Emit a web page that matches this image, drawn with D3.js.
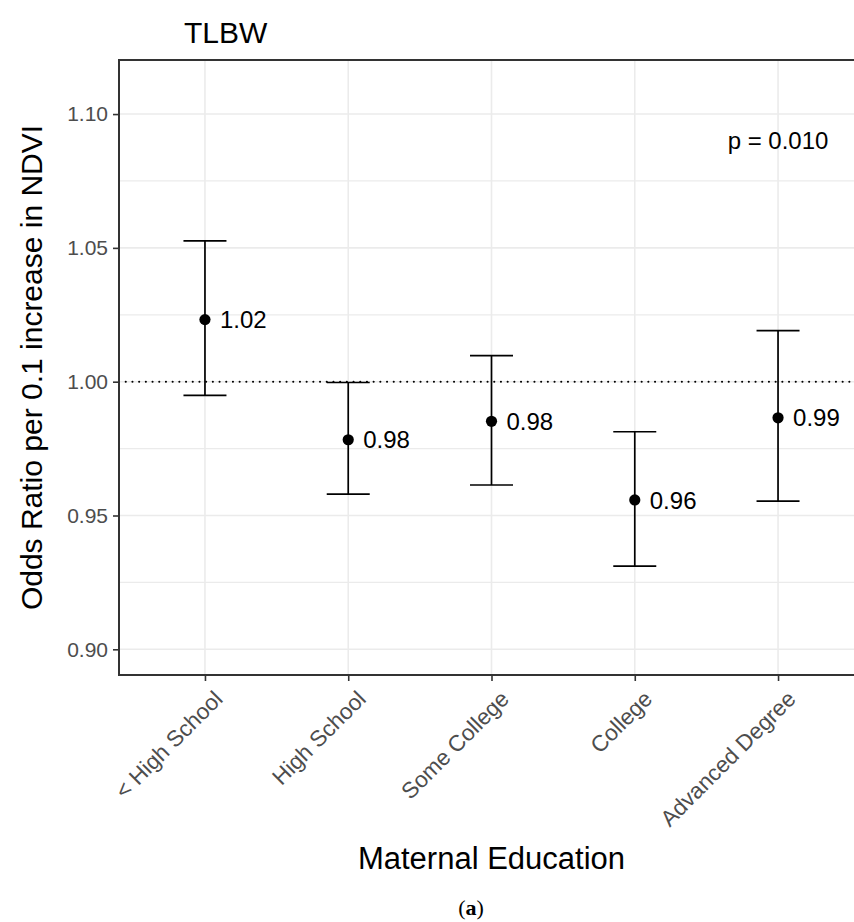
<!DOCTYPE html>
<html><head><meta charset="utf-8">
<script src="https://cdn.jsdelivr.net/npm/d3@7"></script>
<style>
html,body{margin:0;padding:0;background:#fff;}
svg{display:block;font-family:"Liberation Sans",Arial,Helvetica,sans-serif;}
</style></head>
<body>
<svg id="chart" width="854" height="922"></svg>
<script>
const categories = ["< High School","High School","Some College","College","Advanced Degree"];
const oddsRatio = [1.0232, 0.9783, 0.9852, 0.9558, 0.9865];
const lowerCI   = [0.9949, 0.9580, 0.9614, 0.9311, 0.9554];
const upperCI   = [1.0526, 0.9997, 1.0097, 0.9813, 1.0191];
const pointLabels = ["1.02","0.98","0.98","0.96","0.99"];
const yTicks = [0.90, 0.95, 1.00, 1.05, 1.10];
const yMinorTicks = [0.925, 0.975, 1.025, 1.075];
const yDomain = [0.8904, 1.1202];
const refLine = 1.00;
const pText = "p = 0.010";
const pY = 1.09;

const svg = d3.select("#chart");
const P = {left:119, right:864, top:60, bottom:675};

const x = d3.scalePoint().domain(categories).range([P.left, P.right]).padding(0.6);
const y = d3.scaleLinear().domain(yDomain).range([P.bottom, P.top]);

svg.append("defs").append("clipPath").attr("id","pc")
  .append("rect").attr("x",P.left).attr("y",P.top).attr("width",P.right-P.left).attr("height",P.bottom-P.top);

const panel = svg.append("g").attr("clip-path","url(#pc)");
panel.selectAll(".gmin").data(yMinorTicks).join("line")
  .attr("x1",P.left).attr("x2",P.right).attr("y1",d=>y(d)).attr("y2",d=>y(d))
  .attr("stroke","#ebebeb").attr("stroke-width",1.2);
panel.selectAll(".gmaj").data(yTicks).join("line")
  .attr("x1",P.left).attr("x2",P.right).attr("y1",d=>y(d)).attr("y2",d=>y(d))
  .attr("stroke","#ebebeb").attr("stroke-width",1.6);
panel.selectAll(".gx").data(categories).join("line")
  .attr("x1",d=>x(d)).attr("x2",d=>x(d)).attr("y1",P.top).attr("y2",P.bottom)
  .attr("stroke","#ebebeb").attr("stroke-width",1.6);

panel.append("line").attr("x1",P.left).attr("x2",P.right)
  .attr("y1",y(refLine)).attr("y2",y(refLine))
  .attr("stroke","#000").attr("stroke-width",2).attr("stroke-linecap","round")
  .attr("stroke-dasharray","0.1,6.6");

const rows = categories.map((c,i)=>({c, or:oddsRatio[i], lo:lowerCI[i], hi:upperCI[i], lab:pointLabels[i]}));
const capW = 21.5;
const eb = panel.selectAll(".eb").data(rows).join("g");
eb.append("line").attr("x1",d=>x(d.c)).attr("x2",d=>x(d.c)).attr("y1",d=>y(d.lo)).attr("y2",d=>y(d.hi))
  .attr("stroke","#000").attr("stroke-width",1.7);
eb.append("line").attr("x1",d=>x(d.c)-capW).attr("x2",d=>x(d.c)+capW).attr("y1",d=>y(d.hi)).attr("y2",d=>y(d.hi))
  .attr("stroke","#000").attr("stroke-width",1.7);
eb.append("line").attr("x1",d=>x(d.c)-capW).attr("x2",d=>x(d.c)+capW).attr("y1",d=>y(d.lo)).attr("y2",d=>y(d.lo))
  .attr("stroke","#000").attr("stroke-width",1.7);
eb.append("circle").attr("cx",d=>x(d.c)).attr("cy",d=>y(d.or)).attr("r",5.6).attr("fill","#000");
eb.append("text").attr("x",d=>x(d.c)+15).attr("y",d=>y(d.or)).attr("dy","0.36em")
  .attr("font-size",24).attr("fill","#000").text(d=>d.lab);

panel.append("text").attr("x",x(categories[4])).attr("y",y(pY)).attr("dy","0.36em")
  .attr("text-anchor","middle").attr("font-size",24).attr("fill","#000").text(pText);

svg.append("rect").attr("x",P.left).attr("y",P.top).attr("width",P.right-P.left).attr("height",P.bottom-P.top)
  .attr("fill","none").attr("stroke","#333333").attr("stroke-width",2);

const yAxis = svg.append("g").attr("transform",`translate(${P.left},0)`)
  .call(d3.axisLeft(y).tickValues(yTicks).tickFormat(d3.format(".2f")).tickSizeOuter(0).tickSize(6).tickPadding(5));
yAxis.select(".domain").remove();
yAxis.selectAll(".tick line").attr("stroke","#333333").attr("stroke-width",1.6);
yAxis.selectAll(".tick text").attr("font-size",21).attr("fill","#4d4d4d").attr("font-family","Liberation Sans, Arial, sans-serif");

const xAxis = svg.append("g").attr("transform",`translate(0,${P.bottom})`)
  .call(d3.axisBottom(x).tickSizeOuter(0).tickSize(6));
xAxis.select(".domain").remove();
xAxis.selectAll(".tick line").attr("stroke","#333333").attr("stroke-width",1.6);
xAxis.selectAll(".tick text")
  .attr("font-size",22.5).attr("fill","#4d4d4d").attr("font-family","Liberation Sans, Arial, sans-serif")
  .attr("text-anchor","end").attr("y",0).attr("dy","0.72em")
  .attr("transform","translate(7,14) rotate(-45)");

svg.append("text").attr("x",184).attr("y",43).attr("font-size",30).attr("fill","#000").text("TLBW");
svg.append("text").attr("transform",`translate(42,${(P.top+P.bottom)/2}) rotate(-90)`)
  .attr("text-anchor","middle").attr("font-size",30).attr("fill","#000")
  .text("Odds Ratio per 0.1 increase in NDVI");
svg.append("text").attr("x",(P.left+P.right)/2).attr("y",869).attr("text-anchor","middle")
  .attr("font-size",31).attr("fill","#000").text("Maternal Education");
svg.append("text").attr("x",471).attr("y",915).attr("text-anchor","middle")
  .attr("font-size",22).attr("font-family","Liberation Serif, serif").attr("fill","#000")
  .html('(<tspan font-weight="bold">a</tspan>)');
</script>
</body></html>
